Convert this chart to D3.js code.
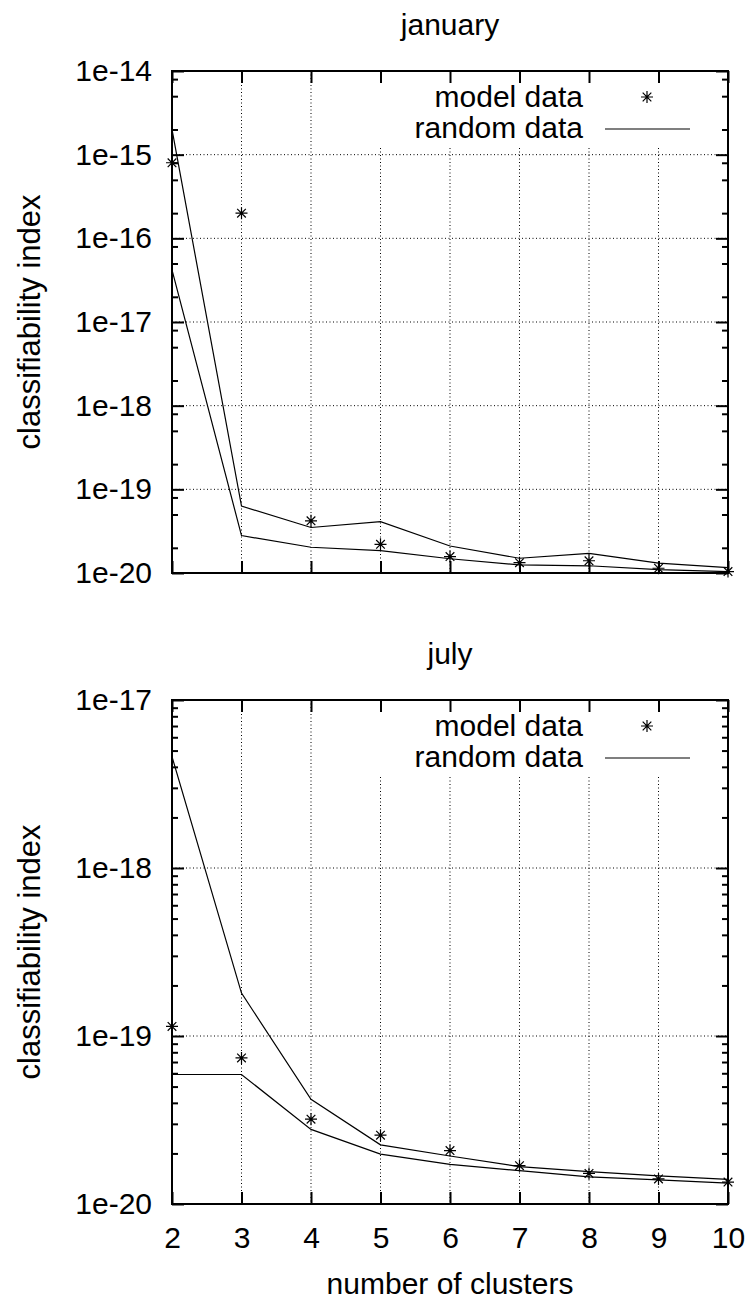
<!DOCTYPE html>
<html>
<head>
<meta charset="utf-8">
<script src="https://cdn.jsdelivr.net/npm/d3@7"></script>
<style>
  body { margin: 0; background: #fff; }
  svg text { font-family: "Liberation Sans", Arial, sans-serif; fill: #000; }
</style>
</head>
<body>
<div id="chart"></div>
<script>
// number of clusters on the x axis
const clusters = [2, 3, 4, 5, 6, 7, 8, 9, 10];

// january
const janModel = [8.0e-16, 2.0e-16, 4.2e-20, 2.2e-20, 1.57e-20, 1.33e-20, 1.40e-20, 1.14e-20, 1.04e-20];
const janRandomHigh = [2.0e-15, 6.3e-20, 3.5e-20, 4.1e-20, 2.1e-20, 1.5e-20, 1.72e-20, 1.31e-20, 1.16e-20];
const janRandomLow = [4.2e-17, 2.8e-20, 2.03e-20, 1.85e-20, 1.48e-20, 1.25e-20, 1.22e-20, 1.1e-20, 1.04e-20];
const janTicks = [1e-20, 1e-19, 1e-18, 1e-17, 1e-16, 1e-15, 1e-14];
const janTickLabels = ["1e-20", "1e-19", "1e-18", "1e-17", "1e-16", "1e-15", "1e-14"];
const janMinor = [2, 5, 8];

// july
const julModel = [1.14e-19, 7.4e-20, 3.2e-20, 2.57e-20, 2.08e-20, 1.69e-20, 1.52e-20, 1.41e-20, 1.35e-20];
const julRandomHigh = [4.6e-18, 1.8e-19, 4.2e-20, 2.25e-20, 1.93e-20, 1.67e-20, 1.56e-20, 1.47e-20, 1.40e-20];
const julRandomLow = [5.9e-20, 5.9e-20, 2.78e-20, 1.98e-20, 1.72e-20, 1.58e-20, 1.45e-20, 1.39e-20, 1.33e-20];
const julTicks = [1e-20, 1e-19, 1e-18, 1e-17];
const julTickLabels = ["1e-20", "1e-19", "1e-18", "1e-17"];
const julMinor = [2, 3, 4, 5, 6, 7, 8, 9];

const W = 748, H = 1299;
const FONT = 30;

const svg = d3.select("#chart").append("svg")
    .attr("width", W)
    .attr("height", H);

const x = d3.scaleLinear().domain([2, 10]).range([172, 728]);

// asterisk like gnuplot's point type 3
function star(r) {
    const d = r * 0.72;
    return `M${-r},0L${r},0M0,${-r}L0,${r}M${-d},${-d}L${d},${d}M${-d},${d}L${d},${-d}`;
}

function drawPanel(p) {
    const g = svg.append("g");
    const y = d3.scaleLog().domain([p.ticks[0], p.ticks[p.ticks.length - 1]]).range([p.bottom, p.top]);
    const left = x.range()[0], right = x.range()[1];

    // grid (dotted)
    g.append("g").selectAll("line")
        .data(clusters.slice(1, -1))
        .join("line")
        .attr("x1", d => x(d)).attr("x2", d => x(d))
        .attr("y1", p.top).attr("y2", p.bottom)
        .attr("stroke", "#000").attr("stroke-width", 1)
        .attr("stroke-dasharray", "1,2.5");
    g.append("g").selectAll("line")
        .data(p.ticks.slice(1, -1))
        .join("line")
        .attr("x1", left).attr("x2", right)
        .attr("y1", d => y(d)).attr("y2", d => y(d))
        .attr("stroke", "#000").attr("stroke-width", 1)
        .attr("stroke-dasharray", "1,2.5");

    // key area is blanked like in gnuplot
    g.append("rect")
        .attr("x", 350).attr("y", p.top + 1)
        .attr("width", right - 351).attr("height", 75)
        .attr("fill", "#fff");

    // minor tick values from the decades
    const minorVals = [];
    p.ticks.slice(0, -1).forEach(t => p.minor.forEach(m => minorVals.push(t * m)));

    const axes = [
        {ax: d3.axisLeft(y), tr: `translate(${left},0)`, vals: p.ticks, lab: true, pad: 20},
        {ax: d3.axisRight(y), tr: `translate(${right},0)`, vals: p.ticks, lab: false, pad: 20},
        {ax: d3.axisBottom(x), tr: `translate(0,${p.bottom})`, vals: clusters, lab: p.xLabels, pad: 23},
        {ax: d3.axisTop(x), tr: `translate(0,${p.top})`, vals: clusters, lab: false, pad: 20}
    ];
    axes.forEach((a, i) => {
        const ax = a.ax.tickValues(a.vals).tickSizeInner(-12).tickSizeOuter(0).tickPadding(a.pad);
        if (i == 0) ax.tickFormat((d, k) => p.labels[k]);
        else if (!a.lab) ax.tickFormat("");
        const ag = g.append("g").attr("transform", a.tr).call(ax);
        ag.select(".domain").remove();
        ag.selectAll(".tick line").attr("stroke-width", 2);
        ag.selectAll("text").style("font-size", FONT + "px").attr("fill", "#000");
    });
    // minor ticks on left & right
    [[d3.axisLeft(y), left], [d3.axisRight(y), right]].forEach(([ax, px]) => {
        const mg = g.append("g").attr("transform", `translate(${px},0)`)
            .call(ax.tickValues(minorVals).tickSizeInner(-6).tickSizeOuter(0).tickFormat(""));
        mg.select(".domain").remove();
        mg.selectAll(".tick line").attr("stroke-width", 2);
    });

    // frame
    g.append("rect")
        .attr("x", left).attr("y", p.top)
        .attr("width", right - left).attr("height", p.bottom - p.top)
        .attr("fill", "none").attr("stroke", "#000").attr("stroke-width", 2);

    // random data lines
    const line = d3.line().x((d, i) => x(clusters[i])).y(d => y(d));
    [p.high, p.low].forEach(s => {
        g.append("path")
            .datum(s)
            .attr("d", line)
            .attr("fill", "none")
            .attr("stroke", "#000")
            .attr("stroke-width", 1.2);
    });

    // model data stars
    g.append("g").selectAll("path")
        .data(p.model)
        .join("path")
        .attr("transform", (d, i) => `translate(${x(clusters[i])},${y(d)})`)
        .attr("d", star(6))
        .attr("stroke", "#000")
        .attr("stroke-width", 1.2)
        .attr("fill", "none");

    // title
    g.append("text")
        .attr("x", (left + right) / 2)
        .attr("y", p.top - 36)
        .attr("text-anchor", "middle")
        .style("font-size", FONT + "px")
        .text(p.title);

    // y label
    g.append("text")
        .attr("transform", `translate(40,${(p.top + p.bottom) / 2}) rotate(-90)`)
        .attr("text-anchor", "middle")
        .style("font-size", "31px")
        .text("classifiability index");

    // legend
    const key = g.append("g").attr("transform", `translate(0,${p.top})`);
    key.append("text").attr("x", 583).attr("y", 36)
        .attr("text-anchor", "end").style("font-size", FONT + "px").text("model data");
    key.append("path").attr("transform", "translate(647,26)").attr("d", star(6))
        .attr("stroke", "#000").attr("stroke-width", 1.2);
    key.append("text").attr("x", 583).attr("y", 67)
        .attr("text-anchor", "end").style("font-size", FONT + "px").text("random data");
    key.append("line").attr("x1", 605).attr("x2", 690).attr("y1", 58).attr("y2", 58)
        .attr("stroke", "#000").attr("stroke-width", 1.2);
}

drawPanel({title: "january", top: 71, bottom: 573, ticks: janTicks, labels: janTickLabels,
    minor: janMinor, model: janModel, high: janRandomHigh, low: janRandomLow, xLabels: false});
drawPanel({title: "july", top: 700, bottom: 1204, ticks: julTicks, labels: julTickLabels,
    minor: julMinor, model: julModel, high: julRandomHigh, low: julRandomLow, xLabels: true});

// x label
svg.append("text")
    .attr("x", 450)
    .attr("y", 1294)
    .attr("text-anchor", "middle")
    .style("font-size", FONT + "px")
    .text("number of clusters");
</script>
</body>
</html>
